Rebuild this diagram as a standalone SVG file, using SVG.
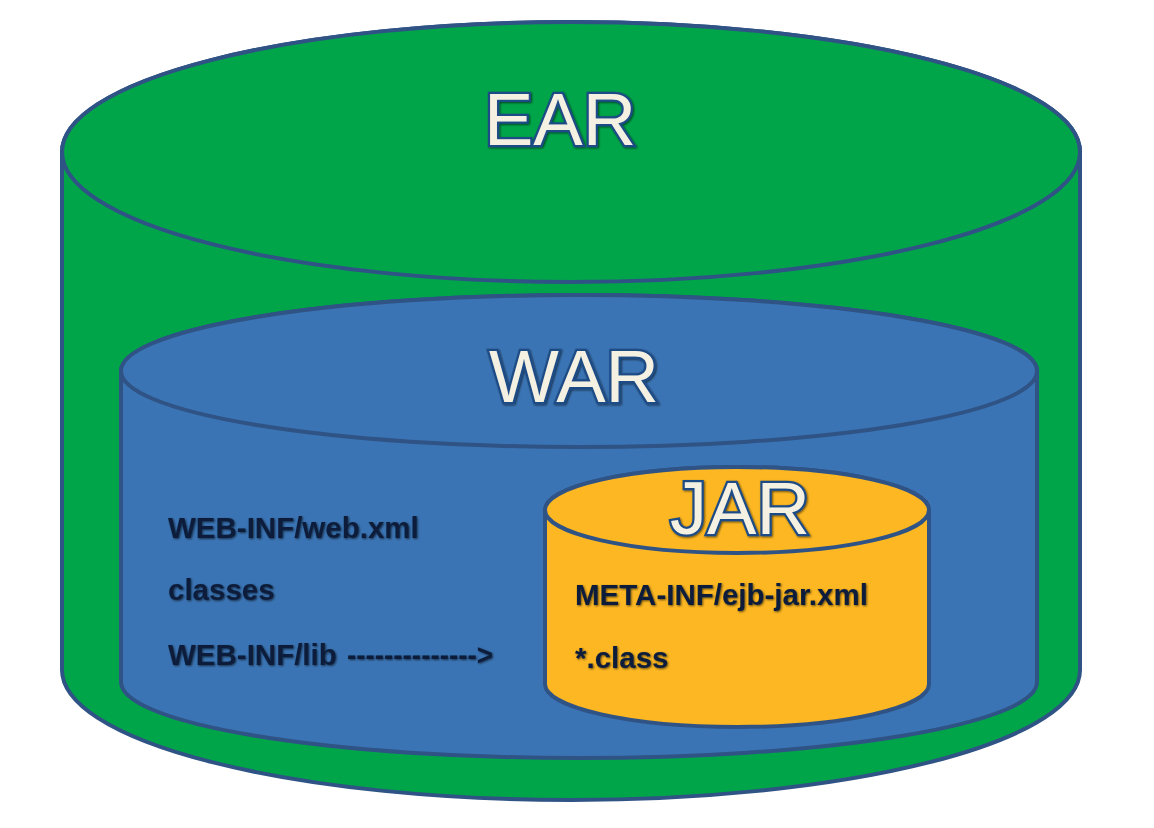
<svg xmlns="http://www.w3.org/2000/svg" width="1154" height="828" viewBox="0 0 1154 828">
<defs>
<style>
.cyl{stroke:#2f5385;stroke-width:4}
.ear{fill:#00a54a}
.war{fill:#3b74b4}
.jar{fill:#fcb722}
.title{font-family:"Liberation Sans",Arial,sans-serif;font-size:74px;fill:#f4f1e2;stroke:#1d4b86;stroke-width:4.5;paint-order:stroke;text-anchor:middle}
.lbl{font-family:"Liberation Sans",Arial,sans-serif;font-weight:bold;font-size:29.5px;fill:#0b1e3a}
</style>
<filter id="sh" x="-10%" y="-30%" width="120%" height="160%">
<feGaussianBlur in="SourceAlpha" stdDeviation="1.2" result="b"/>
<feOffset dx="1" dy="1" in="b" result="o"/>
<feFlood flood-color="#000" flood-opacity="0.6"/>
<feComposite in2="o" operator="in" result="s"/>
<feMerge><feMergeNode in="s"/><feMergeNode in="SourceGraphic"/></feMerge>
</filter>
</defs>
<rect width="1154" height="828" fill="#fff"/>
<g id="ear">
<path class="cyl ear" d="M62,152 L62,670 A509,130 0 0 0 1080,670 L1080,152 A509,130 0 0 0 62,152 Z"/>
<ellipse class="cyl ear" cx="571" cy="152" rx="509" ry="130"/>
<text class="title" x="560" y="145" filter="url(#sh)">EAR</text>
</g>
<g id="war">
<path class="cyl war" d="M121,371 L121,682 A458,76 0 0 0 1037,682 L1037,371 A458,76 0 0 0 121,371 Z"/>
<ellipse class="cyl war" cx="579" cy="371" rx="458" ry="76"/>
<text class="title" x="574" y="402" filter="url(#sh)">WAR</text>
<text class="lbl" x="168" y="538" filter="url(#sh)">WEB-INF/web.xml</text>
<text class="lbl" x="168" y="600" filter="url(#sh)">classes</text>
<text class="lbl" x="168" y="665" filter="url(#sh)">WEB-INF/lib</text>
</g>
<g id="connectors">
<text class="lbl" x="347" y="665" textLength="146" lengthAdjust="spacingAndGlyphs" filter="url(#sh)">--------------&gt;</text>
</g>
<g id="jar">
<path class="cyl jar" d="M545,510 L545,684 A192,43 0 0 0 929,684 L929,510 A192,43 0 0 0 545,510 Z"/>
<ellipse class="cyl jar" cx="737" cy="510" rx="192" ry="43"/>
<text class="title" x="740" y="534" font-size="76" filter="url(#sh)">JAR</text>
<text class="lbl" x="575" y="605" filter="url(#sh)">META-INF/ejb-jar.xml</text>
<text class="lbl" x="575" y="668" filter="url(#sh)">*.class</text>
</g>
</svg>
